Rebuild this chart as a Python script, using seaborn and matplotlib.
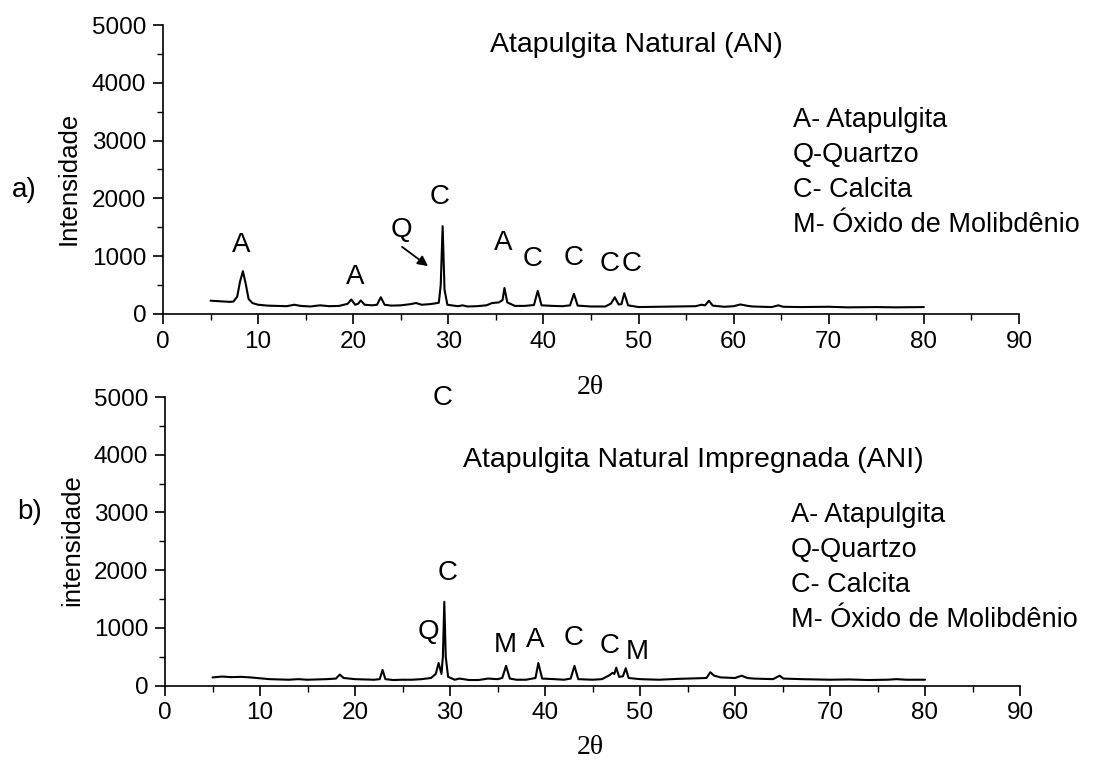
import matplotlib
matplotlib.use("Agg")
import matplotlib.pyplot as plt
from matplotlib.ticker import MultipleLocator
import pandas as pd
import seaborn as sns

# Natural attapulgite (AN): 2-theta positions and counts
an_theta = [5.0, 5.5, 6.0, 6.5, 7.0, 7.4, 7.8, 8.1, 8.4, 8.7, 9.0, 9.4, 10.0, 11.0, 12.0,
            13.0, 13.8, 14.5, 15.5, 16.5, 17.5, 18.5, 19.4, 19.8, 20.2, 20.5, 20.8, 21.2,
            22.0, 22.5, 22.9, 23.3, 24.0, 25.0, 26.0, 26.6, 27.2, 28.0, 28.5, 29.0, 29.2,
            29.4, 29.6, 29.9, 31.0, 31.5, 32.0, 33.0, 34.0, 34.6, 35.3, 35.7, 35.9, 36.2,
            37.0, 38.0, 39.0, 39.4, 39.8, 41.0, 42.0, 42.8, 43.2, 43.6, 45.0, 46.5, 47.1,
            47.5, 47.9, 48.2, 48.5, 48.9, 50.0, 52.0, 54.0, 56.0, 56.6, 57.0, 57.4, 57.8,
            59.0, 60.0, 60.7, 61.5, 62.0, 64.0, 64.7, 65.2, 67.0, 70.0, 72.0, 75.0, 77.0, 80.0]
an_counts = [230, 225, 220, 215, 210, 215, 300, 560, 740, 520, 260, 190, 160, 145, 140,
             135, 160, 140, 130, 150, 135, 140, 175, 250, 160, 175, 235, 160,
             150, 160, 290, 160, 145, 150, 170, 190, 160, 170, 180, 195, 500,
             1520, 420, 160, 135, 150, 130, 135, 150, 190, 200, 240, 450, 200,
             140, 140, 155, 400, 150, 140, 135, 150, 350, 145, 130, 130, 180,
             290, 165, 170, 360, 150, 120, 125, 130, 135, 160, 150, 230, 145,
             125, 135, 165, 140, 130, 120, 150, 125, 120, 125, 115, 120, 115, 120]

# Impregnated natural attapulgite (ANI)
ani_theta = [5.0, 6.0, 7.0, 8.0, 9.0, 10.0, 11.0, 12.0, 13.0, 14.0, 15.0, 16.0, 17.0, 18.0,
             18.4, 18.8, 20.0, 21.0, 22.0, 22.6, 22.9, 23.2, 24.0, 25.0, 26.0, 27.0, 28.0,
             28.5, 28.8, 29.1, 29.25, 29.4, 29.55, 29.8, 30.5, 31.0, 32.0, 33.0, 34.0, 35.0,
             35.5, 35.9, 36.3, 37.0, 38.0, 39.0, 39.3, 39.7, 41.0, 42.0, 42.7, 43.1, 43.5,
             45.0, 46.0, 46.8, 47.1, 47.3, 47.5, 47.8, 48.2, 48.5, 48.8, 50.0, 52.0, 54.0,
             56.0, 57.0, 57.4, 57.8, 58.5, 60.0, 60.7, 61.3, 62.0, 64.0, 64.7, 65.1, 67.0,
             70.0, 72.0, 74.0, 76.0, 77.0, 78.0, 80.0]
ani_counts = [140, 155, 145, 150, 140, 125, 110, 105, 100, 110, 100, 105, 110, 120,
              190, 130, 110, 105, 100, 110, 270, 110, 95, 100, 100, 110, 130,
              200, 390, 200, 500, 1450, 500, 150, 100, 120, 95, 95, 120, 110,
              130, 340, 120, 100, 100, 130, 390, 120, 110, 100, 120, 340, 110,
              100, 110, 180, 220, 200, 310, 150, 160, 300, 130, 110, 100, 115,
              125, 130, 230, 170, 140, 130, 170, 130, 120, 110, 170, 120, 110,
              100, 105, 95, 100, 110, 100, 100]

# Phase identification letters above the reflections
an_marks = ["A", "A", "Q", "C", "A", "C", "C", "C", "C"]
ani_marks = ["C", "C", "Q", "M", "A", "C", "C", "M"]
phase_key = ["A- Atapulgita", "Q-Quartzo", "C- Calcita", "M- Óxido de Molibdênio"]
x_ticks = [0, 10, 20, 30, 40, 50, 60, 70, 80, 90]
y_ticks = [0, 1000, 2000, 3000, 4000, 5000]

# placement of the letters (2theta, counts)
an_mark_xy = [(8.2, 1190), (20.2, 640), (25.1, 1450), (29.1, 2020), (35.8, 1230),
              (38.9, 950), (43.2, 970), (47.0, 860), (49.3, 860)]
ani_mark_xy = [(29.2, 4980), (29.7, 1955), (27.7, 920), (35.8, 700), (39.0, 790),
               (43.0, 820), (46.8, 690), (49.7, 585)]

sns.set_style("ticks")
plt.rcParams["font.family"] = ["Liberation Sans", "DejaVu Sans"]
plt.rcParams["text.color"] = "black"
plt.rcParams["xtick.color"] = "black"
plt.rcParams["ytick.color"] = "black"

fig = plt.figure(figsize=(11.01, 7.69), dpi=100)
ax_top = fig.add_axes([163 / 1101, 1 - 314 / 769, 856 / 1101, 289 / 769])
ax_bot = fig.add_axes([165 / 1101, 1 - 685.5 / 769, 855 / 1101, 288.5 / 769])

df_an = pd.DataFrame({"theta": an_theta, "counts": an_counts})
df_ani = pd.DataFrame({"theta": ani_theta, "counts": ani_counts})
sns.lineplot(data=df_an, x="theta", y="counts", ax=ax_top, color="black",
             linewidth=1.5, estimator=None, sort=True)
sns.lineplot(data=df_ani, x="theta", y="counts", ax=ax_bot, color="black",
             linewidth=1.5, estimator=None, sort=True)

for ax in (ax_top, ax_bot):
    ax.set_xlim(0, 90)
    ax.set_ylim(0, 5000)
    ax.set_xticks(x_ticks)
    ax.set_yticks(y_ticks)
    ax.xaxis.set_minor_locator(MultipleLocator(5))
    ax.yaxis.set_minor_locator(MultipleLocator(500))
    ax.tick_params(which="major", direction="out", length=7, width=1.2,
                   labelsize=17.5, color="black", labelcolor="black", pad=5)
    ax.tick_params(which="minor", direction="out", length=4, width=1.0, color="black")
    for side in ("top", "right"):
        ax.spines[side].set_visible(False)
    for side in ("left", "bottom"):
        ax.spines[side].set_color("black")
        ax.spines[side].set_linewidth(1.2)
    ax.set_xlabel("")
    ax.set_ylabel("")

# panel titles
ax_top.text(34.4, 4650, "Atapulgita Natural (AN)", fontsize=20.5, ha="left", va="center")
ax_bot.text(31.4, 3906, "Atapulgita Natural Impregnada (ANI)", fontsize=20.5,
            ha="left", va="center")

# phase keys
for ax, x0, rows in ((ax_top, 66.2, [3356, 2750, 2145, 1540]),
                     (ax_bot, 65.9, [2955, 2348, 1742, 1135])):
    for label, yv in zip(phase_key, rows):
        ax.text(x0, yv, label, fontsize=19.5, ha="left", va="center")

# reflection letters
for lab, (xv, yv) in zip(an_marks, an_mark_xy):
    ax_top.text(xv, yv, lab, fontsize=20, ha="center", va="center")
for lab, (xv, yv) in zip(ani_marks, ani_mark_xy):
    ax_bot.text(xv, yv, lab, fontsize=20, ha="center", va="center", clip_on=False)

# arrow pointing at the quartz reflection
ax_top.annotate("", xy=(28.1, 800), xytext=(24.9, 1190),
                arrowprops=dict(arrowstyle="-|>", color="black", lw=1.3,
                                mutation_scale=15))

# axis titles
fig.text(590 / 1101, 1 - 388 / 769, "2θ", fontsize=20,
         family=["Liberation Serif", "DejaVu Serif"], ha="center", va="center")
fig.text(590 / 1101, 1 - 748 / 769, "2θ", fontsize=20,
         family=["Liberation Serif", "DejaVu Serif"], ha="center", va="center")
fig.text(69 / 1101, 1 - 178 / 769, "Intensidade", fontsize=18.5, rotation=90,
         ha="center", va="center")
fig.text(72 / 1101, 1 - 540 / 769, "intensidade", fontsize=18.5, rotation=90,
         ha="center", va="center")
fig.text(24 / 1101, 1 - 190 / 769, "a)", fontsize=20, ha="center", va="center")
fig.text(30 / 1101, 1 - 512 / 769, "b)", fontsize=20, ha="center", va="center")

fig.savefig("out.png", dpi=100, facecolor="white")
